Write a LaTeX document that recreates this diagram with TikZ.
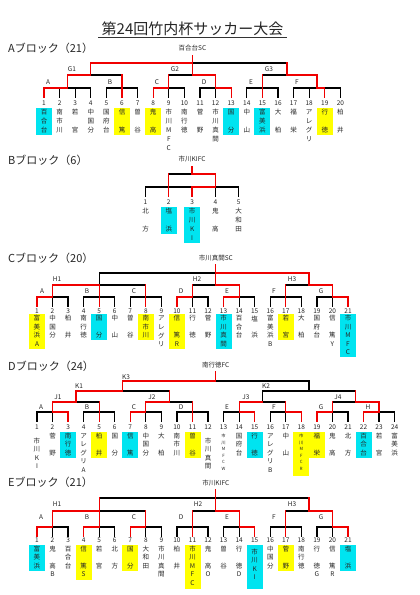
\documentclass[tikz,border=0pt]{standalone}
\usepackage{fontspec}
\setmainfont{Noto Sans CJK JP}
\definecolor{cy}{RGB}{0,228,240}
\definecolor{ye}{RGB}{255,255,0}
\definecolor{rd}{RGB}{240,0,0}
\tikzset{
 bk/.style={line width=1.25pt, black, line cap=rect},
 rl/.style={line width=1.25pt, rd, line cap=rect, line join=miter},
 num/.style={font=\fontsize{6.5}{7}\selectfont, inner sep=0pt, text=black!85},
 ch/.style={font=\fontsize{6.5}{7}\selectfont, inner sep=0pt, text=black!85},
 chs/.style={font=\fontsize{4.3}{5}\selectfont, inner sep=0pt, text=black!85},
 lab/.style={font=\fontsize{6.5}{7}\selectfont, inner sep=0pt, text=black!85},
 ttl/.style={font=\fontsize{11}{12}\selectfont, anchor=west, inner sep=0pt, text=black!85},
}
% #1 prefix, #2 x0, #3 dx, #4 number y, #5 char y0, #6 char step, #7 list
\newcommand\blockteams[7]{%
 \foreach \nm [count=\i] in {#7} {%
   \pgfmathsetmacro\xx{#2+(\i-1)*#3}%
   \node[num] (#1n\i) at (\xx,#4) {\i};%
   \foreach \c [count=\k from 0] in \nm {\node[ch] at (\xx,{#5+\k*#6}) {\c};}%
 }}
% #1 x, #2 y0, #3 step, #4 list, #5 style
\newcommand\vname[5]{\foreach \c [count=\k from 0] in {#4} {\node[#5] at (#1,{#2+\k*#3}) {\c};}}
% #1 colour, #2 x, #3 top, #4 bottom
\newcommand\hl[4]{\fill[#1] ({#2-8},#3) rectangle ({#2+8},#4);}
\begin{document}
\begin{tikzpicture}[x=1pt,y=-1pt]
\useasboundingbox (0,0) rectangle (420,595);
\fill[white] (0,0) rectangle (420,595);
% ---------- title
\node[font=\fontsize{15}{18}\selectfont, inner sep=0pt, text=black!85] (title) at (192.5,29) {第24回竹内杯サッカー大会};
\draw[line width=0.6pt, black!80] (98,37.5) -- (287,37.5);

% ================= A block
\node[ttl] (tA) at (8,48) {Aブロック（21）};
\node[lab] (cA) at (192.5,48) {百合台SC};
\hl{cy}{44}{107.5}{135}
\hl{ye}{122}{107.5}{135}
\hl{ye}{153.2}{107.5}{135}
\hl{cy}{231.2}{107.5}{135}
\hl{cy}{262.4}{107.5}{135}
\hl{ye}{324.8}{107.5}{135}
\draw[bk] (192.5,56)--(192.5,75) (90.8,63)--(287,63) (90.8,63)--(90.8,75) (287,63)--(287,75)
 (67.4,75)--(122,75) (168.8,75)--(215.6,75) (262.4,75)--(317,75)
 (67.4,75)--(67.4,88) (122,75)--(122,88) (168.8,75)--(168.8,88) (215.6,75)--(215.6,88) (262.4,75)--(262.4,88) (317,75)--(317,88)
 (44,88)--(90.8,88) (106.4,88)--(137.6,88) (153.2,88)--(184.4,88) (200,88)--(231.2,88) (246.8,88)--(278,88) (293.6,88)--(340.4,88);
\foreach \i in {1,...,20} \draw[bk] ({44+(\i-1)*15.6},88)--++(0,9);
\draw[rl] (192.5,56)--(192.5,75)--(215.6,75)--(215.6,88)--(231.2,88)--(231.2,97)
 (192.5,63)--(90.8,63)--(90.8,75)--(67.4,75)--(67.4,88)--(44,88)--(44,97)
 (287,63)--(287,75)--(317,75)--(317,88)--(324.8,88)--(324.8,97)
 (122,75)--(122,97) (168.8,75)--(168.8,88)--(153.2,88)--(153.2,97) (262.4,75)--(262.4,97);
\node[lab] (aG1) at (72,69) {G1};
\node[lab] (aG2) at (175,69) {G2};
\node[lab] (aG3) at (269,69) {G3};
\node[lab] (aA) at (48,82) {A};
\node[lab] (aB) at (110,82) {B};
\node[lab] (aC) at (157,82) {C};
\node[lab] (aD) at (204,82) {D};
\node[lab] (aE) at (251,82) {E};
\node[lab] (aF) at (297,82) {F};
\blockteams{a}{44}{15.6}{103}{112}{9}{{百,合,台},{南,市,川},{若,{},宮},{中,国,分},{国,府,台},{信,{},篤},{曽,{},谷},{鬼,{},高},{市,川,M,F,C},{南,行,徳},{菅,{},野},{市,川,真,間},{国,{},分},{中,{},山},{富,美,浜},{大,{},柏},{福,{},栄},{ア,レ,グ,リ},{行,{},徳},{柏,{},井}}

% ================= B block
\node[ttl] (tB) at (8,160) {Bブロック（6）};
\node[lab] (cB) at (192.1,159) {市川KIFC};
\hl{cy}{168.8}{206.5}{234}
\hl{cy}{192.1}{206.5}{243}
\draw[bk] (192.1,167)--(192.1,174) (168.8,174)--(215.4,174) (215.4,174)--(215.4,187) (145.5,187)--(238.7,187)
 (145.5,187)--(145.5,196) (168.8,174)--(168.8,196) (192.1,187)--(192.1,196) (215.4,187)--(215.4,196) (238.7,187)--(238.7,196);
\draw[rl] (192.1,167)--(192.1,174)--(215.4,174)--(215.4,187)--(192.1,187)--(192.1,196) (168.8,174)--(168.8,196);
\blockteams{b}{145.5}{23.3}{202}{211}{9}{{北,{},方},{塩,{},浜},{市,川,K,I},{鬼,{},高},{大,和,田}}

% ================= C block
\node[ttl] (tC) at (8,258) {Cブロック（20）};
\node[lab] (cC) at (215.8,258) {市川真間SC};
\hl{ye}{37}{314}{349}
\hl{cy}{99.2}{314}{340}
\hl{ye}{145.85}{314}{340}
\hl{ye}{176.95}{314}{349}
\hl{cy}{223.6}{314}{349}
\hl{ye}{285.8}{314}{340}
\hl{cy}{348}{314}{357}
\draw[bk] (215.8,265)--(215.8,285) (99.2,273)--(309.1,273) (99.2,273)--(99.2,285) (309.1,273)--(309.1,285)
 (52.55,285)--(145.85,285) (192.5,285)--(239.15,285) (285.8,285)--(332.45,285)
 (52.55,285)--(52.55,297) (99.2,285)--(99.2,297) (145.85,285)--(145.85,297) (192.5,285)--(192.5,297) (239.15,285)--(239.15,297) (285.8,285)--(285.8,297) (332.45,285)--(332.45,297)
 (37,297)--(68.1,297) (83.65,297)--(114.75,297) (130.3,297)--(161.4,297) (176.95,297)--(208.05,297) (223.6,297)--(254.7,297) (270.25,297)--(301.35,297) (316.9,297)--(348,297);
\foreach \i in {1,...,21} \draw[bk] ({37+(\i-1)*15.55},297)--++(0,9);
\draw[rl] (215.8,265)--(215.8,285)--(239.15,285)--(239.15,297)--(223.6,297)--(223.6,306)
 (215.8,273)--(309.1,273)--(309.1,285)--(332.45,285)--(332.45,297)--(348,297)--(348,306)
 (99.2,285)--(52.55,285)--(52.55,297)--(37,297)--(37,306)
 (99.2,285)--(99.2,306) (145.85,285)--(145.85,306) (192.5,285)--(192.5,297)--(176.95,297)--(176.95,306) (285.8,285)--(285.8,306);
\node[lab] (cH1) at (57,279) {H1};
\node[lab] (cH2) at (197,279) {H2};
\node[lab] (cH3) at (292,279) {H3};
\node[lab] (cA) at (42,291) {A};
\node[lab] (cB) at (87,291) {B};
\node[lab] (cCC) at (134,291) {C};
\node[lab] (cD) at (181,291) {D};
\node[lab] (cE) at (227,291) {E};
\node[lab] (cF) at (274,291) {F};
\node[lab] (cG) at (321,291) {G};
\blockteams{c}{37}{15.55}{311}{318.5}{8.5}{{富,美,浜,A},{中,国,分},{柏,{},井},{南,行,徳},{国,{},分},{中,{},山},{曽,{},谷},{南,市,川},{ア,レ,グ,リ},{信,{},篤,R},{行,{},徳},{菅,{},野},{市,川,真,間},{百,合,台},{塩,{},浜},{富,美,浜,B},{若,{},宮},{大,{},柏},{国,府,台},{信,{},篤,Y},{市,川,M,F,C}}

% ================= D block
\node[ttl] (tD) at (8,366) {Dブロック（24）};
\node[lab] (cDD) at (215.8,365) {南行徳FC};
\hl{cy}{68.1}{431.5}{458}
\hl{ye}{99.2}{431.5}{458}
\hl{cy}{130.3}{431.5}{458}
\hl{ye}{192.5}{431.5}{458}
\hl{cy}{254.7}{431.5}{458}
\hl{ye}{301.35}{431.5}{476}
\hl{ye}{316.9}{431.5}{458}
\hl{cy}{363.55}{431.5}{458}
\draw[bk] (215.8,372)--(215.8,381) (122.5,381)--(309.1,381) (122.5,381)--(122.5,391) (309.1,381)--(309.1,391)
 (75.9,391)--(169.2,391) (262.5,391)--(355.8,391)
 (75.9,391)--(75.9,402) (169.2,391)--(169.2,402) (262.5,391)--(262.5,402) (355.8,391)--(355.8,402)
 (52.55,402)--(99.2,402) (145.85,402)--(192.5,402) (239.15,402)--(285.8,402) (332.45,402)--(379.1,402)
 (37,412)--(68.1,412) (83.65,412)--(114.75,412) (130.3,412)--(161.4,412) (176.95,412)--(208.05,412) (223.6,412)--(254.7,412) (270.25,412)--(301.35,412) (316.9,412)--(348,412) (363.55,412)--(394.65,412);
\foreach \x in {52.55,99.2,145.85,192.5,239.15,285.8,332.45,379.1} \draw[bk] (\x,402)--(\x,412);
\foreach \i in {1,...,24} \draw[bk] ({37+(\i-1)*15.55},412)--++(0,9);
\draw[rl] (215.8,372)--(215.8,381)--(122.5,381)--(122.5,391)--(75.9,391)--(75.9,402)--(52.55,402)--(52.55,412)--(68.1,412)--(68.1,421)
 (169.2,391)--(169.2,402)--(145.85,402)--(145.85,412)--(130.3,412)--(130.3,421)
 (99.2,402)--(99.2,421) (192.5,402)--(192.5,421)
 (262.5,402)--(239.15,402)--(239.15,412)--(254.7,412)--(254.7,421)
 (285.8,402)--(285.8,412)--(301.35,412)--(301.35,421)
 (332.45,402)--(332.45,412)--(316.9,412)--(316.9,421)
 (355.8,391)--(355.8,402)--(379.1,402)--(379.1,412)--(363.55,412)--(363.55,421);
\node[lab] (dK3) at (126,377) {K3};
\node[lab] (dK1) at (79,386) {K1};
\node[lab] (dK2) at (266,386) {K2};
\node[lab] (dJ1) at (58,397) {J1};
\node[lab] (dJ2) at (152,397) {J2};
\node[lab] (dJ3) at (246,397) {J3};
\node[lab] (dJ4) at (338,397) {J4};
\node[lab] (dA) at (41,407) {A};
\node[lab] (dB) at (87,407) {B};
\node[lab] (dC) at (134,407) {C};
\node[lab] (dD) at (181,407) {D};
\node[lab] (dE) at (227,407) {E};
\node[lab] (dF) at (274,407) {F};
\node[lab] (dG) at (321,407) {G};
\node[lab] (dH) at (368,407) {H};
\blockteams{d}{37}{15.55}{427}{436}{8.5}{{\relax},{菅,{},野},{南,行,徳},{ア,レ,グ,リ,A},{柏,{},井},{国,{},分},{信,{},篤},{中,国,分},{大,{},柏},{南,市,川},{曽,{},谷},{\relax},{\relax},{国,府,台},{行,{},徳},{ア,レ,グ,リ,B},{中,{},山},{\relax},{福,{},栄},{鬼,{},高},{北,{},方},{百,合,台},{若,{},宮},{富,美,浜}}
\vname{37}{441}{8.5}{市,川,K,I}{ch}
\vname{208.05}{441}{8.5}{市,川,真,間}{ch}
\vname{223.6}{436}{6.5}{市,川,M,F,C,W}{chs}
\vname{301.35}{436}{6.5}{市,川,M,F,C,R}{chs}

% ================= E block
\node[ttl] (tE) at (8,482) {Eブロック（21）};
\node[lab] (cEE) at (215.8,483) {市川KIFC};
\hl{cy}{37}{544.5}{571}
\hl{ye}{83.65}{544.5}{580}
\hl{ye}{130.3}{544.5}{571}
\hl{ye}{192.5}{544.5}{588.5}
\hl{cy}{254.7}{544.5}{588.5}
\hl{ye}{285.8}{544.5}{571}
\hl{cy}{348}{544.5}{571}
\draw[bk] (215.8,490)--(215.8,511) (99.2,498)--(309.1,498) (99.2,498)--(99.2,511) (309.1,498)--(309.1,511)
 (52.55,511)--(145.85,511) (192.5,511)--(239.15,511) (285.8,511)--(332.45,511)
 (37,527)--(68.1,527) (83.65,527)--(114.75,527) (130.3,527)--(161.4,527) (176.95,527)--(208.05,527) (223.6,527)--(254.7,527) (270.25,527)--(301.35,527) (316.9,527)--(348,527);
\foreach \x in {52.55,99.2,145.85,192.5,239.15,285.8,332.45} \draw[bk] (\x,511)--(\x,527);
\foreach \i in {1,...,21} \draw[bk] ({37+(\i-1)*15.55},527)--++(0,9);
\draw[rl] (215.8,490)--(215.8,511)--(239.15,511)--(239.15,527)--(254.7,527)--(254.7,536)
 (309.1,498)--(309.1,511)--(332.45,511)--(332.45,527)--(348,527)--(348,536)
 (99.2,498)--(99.2,511)--(52.55,511)--(52.55,527)--(37,527)--(37,536)
 (99.2,511)--(99.2,527)--(83.65,527)--(83.65,536)
 (145.85,511)--(145.85,527)--(130.3,527)--(130.3,536)
 (192.5,511)--(192.5,536) (285.8,511)--(285.8,536);
\node[lab] (eH1) at (57,504) {H1};
\node[lab] (eH2) at (198,504) {H2};
\node[lab] (eH3) at (292,504) {H3};
\node[lab] (eA) at (41,517) {A};
\node[lab] (eB) at (87,517) {B};
\node[lab] (eC) at (134,517) {C};
\node[lab] (eD) at (181,517) {D};
\node[lab] (eE) at (227,517) {E};
\node[lab] (eF) at (274,517) {F};
\node[lab] (eG) at (321,517) {G};
\blockteams{e}{37}{15.55}{540}{549}{8.5}{{富,美,浜},{鬼,{},高,B},{百,合,台},{信,{},篤,S},{若,{},宮},{北,{},方},{国,{},分},{大,和,田},{市,川,真,間},{柏,{},井},{市,川,M,F,C},{鬼,{},高,O},{曽,{},谷},{行,{},徳,D},{\relax},{中,国,分},{菅,{},野},{南,行,徳},{行,{},徳,G},{信,{},篤,R},{塩,{},浜}}
\vname{254.7}{552}{8.5}{市,川,K,I}{ch}
\end{tikzpicture}
\end{document}
